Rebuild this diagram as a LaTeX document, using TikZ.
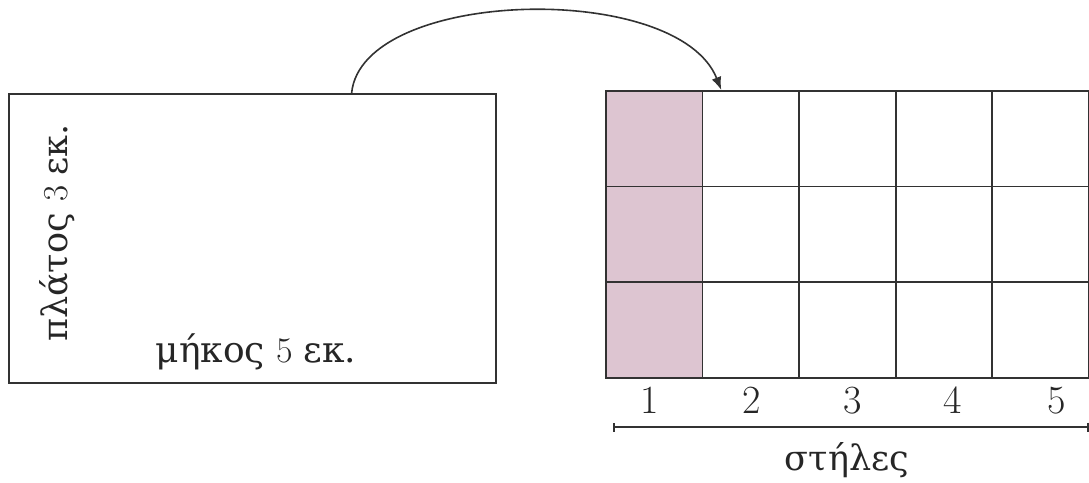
\documentclass[tikz,border=0pt]{standalone}
\usepackage{fontspec}
\newfontfamily\gr{DejaVu Serif}
\usetikzlibrary{arrows.meta,calc}
\definecolor{pinkfill}{RGB}{221,197,209}
\definecolor{ink}{RGB}{50,50,50}
\tikzset{
  frame/.style={draw=ink,line width=1.8pt,minimum width=487pt,minimum height=289pt,inner sep=0pt,anchor=north west},
  cell/.style={draw=ink,line width=1.7pt,minimum width=96.6pt,minimum height=95.7pt,inner sep=0pt,anchor=north west},
  lbl/.style={text=black!85,inner sep=0pt},
}
\begin{document}
\begin{tikzpicture}[x=1pt,y=-1pt]
\useasboundingbox (0,0) rectangle (1089,482);
\node[frame] (rect) at (8,93) {};
\node[lbl,rotate=90,font=\fontsize{35}{40}\selectfont] (w) at (57,233) {\gr πλάτος \rmfamily 3 \gr εκ.};
\node[lbl,anchor=base,font=\fontsize{36}{40}\selectfont] (l) at (256,362) {\gr μήκος \rmfamily 5 \gr εκ.};
\foreach \c in {1,...,5}{
  \foreach \r in {1,2,3}{
    \ifnum\c=1
      \node[cell,fill=pinkfill] (c-\r-\c) at ({605+(\c-1)*96.6},{90+(\r-1)*95.7}) {};
    \else
      \node[cell] (c-\r-\c) at ({605+(\c-1)*96.6},{90+(\r-1)*95.7}) {};
    \fi
  }
}
\foreach \c/\x in {1/650,2/752,3/853,4/953,5/1057}{
  \node[lbl,anchor=base,font=\fontsize{40}{44}\selectfont] (n\c) at (\x,413) {\c};
}
\coordinate (ls) at (613,427);
\coordinate (le) at (1089,427);
\draw[ink,line width=1.8pt,{Bar[width=9pt]}-{Bar[width=9pt]}] (ls) -- (le);
\node[lbl,anchor=base,font=\fontsize{35}{40}\selectfont] (st) at (847,470) {\gr στήλες};
\coordinate (as) at ($(rect.north west)!0.703!(rect.north east)$);
\coordinate (ae) at ($(c-1-2.north west)!0.2!(c-1-2.north east)$);
\draw[ink,line width=1.6pt,-{Latex[length=13pt,width=10pt]}] (as) .. controls (362,-12) and (678,-20) .. (ae);
\end{tikzpicture}
\end{document}
